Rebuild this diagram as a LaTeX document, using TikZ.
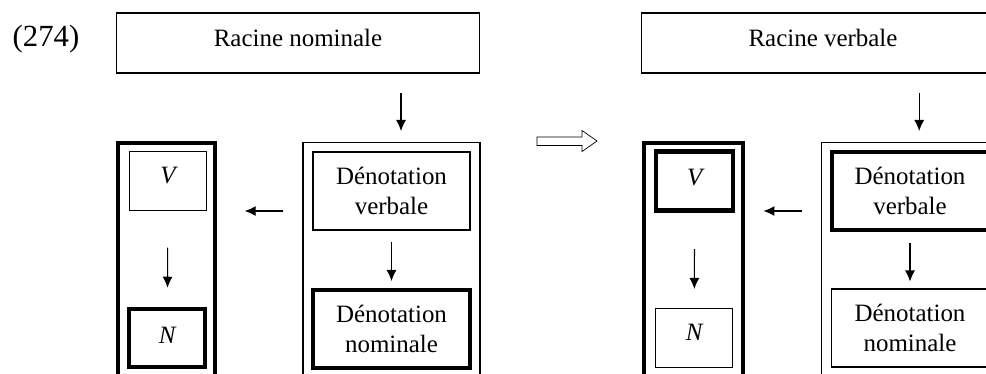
\documentclass[tikz,border=0pt]{standalone}
\usepackage{fontspec}
\setmainfont{Liberation Serif}
\usetikzlibrary{arrows.meta,calc}

\begin{document}
\begin{tikzpicture}[x=0.02cm, y=-0.02cm,
  box/.style={rectangle, draw, line width=0.6pt, align=center, inner sep=0pt, font=\fontsize{14.2}{17}\selectfont},
  heavy/.style={line width=2.3pt},
  root/.style={box, minimum width=7.28cm, minimum height=1.2cm, text depth=0.19cm},
  deno/.style={box, minimum width=3.14cm, minimum height=1.56cm},
  letter/.style={box, minimum width=1.54cm, minimum height=1.18cm, font=\fontsize{14.2}{17}\selectfont\itshape},
  column/.style={box, anchor=north, minimum height=5.6cm},
  edge/.style={-{Latex[length=0.22cm,width=0.2cm]}, line width=0.6pt}
]
\useasboundingbox (0,0) rectangle (986,374);
\clip (0,0) rectangle (986,374);
\node[anchor=base, font=\fontsize{17.5}{20}\selectfont] (ex) at (46,46.7) {(274)};
\node[root] (racN) at (298,43) {Racine nominale};
\node[column, minimum width=3.54cm] (colR1) at (391.5,142) {};
\node[column, heavy, minimum width=1.94cm] (colL1) at (166.7,141.3) {};
\node[deno] (dvN1) at (391.5,191) {Dénotation\\verbale};
\node[deno, heavy] (dnN1) at (391.5,329) {Dénotation\\nominale};
\node[letter, text depth=0.24cm] (vN1) at (168,181) {V};
\node[letter, heavy, minimum width=1.52cm, minimum height=1.17cm, text depth=0.12cm] (nN1) at (167.3,338) {N};
\draw (537,137) -- (582,137) -- (582,130.5) -- (597,141) -- (582,151.5) -- (582,145.5) -- (537,145.5) -- cycle;
\node[root] (racV) at (823,43) {Racine verbale};
\node[column, minimum width=3.54cm] (colR2) at (910.2,142) {};
\node[column, heavy, minimum width=1.97cm] (colL2) at (693.7,141.3) {};
\node[deno, heavy] (dvN2) at (910,191) {Dénotation\\verbale};
\node[deno] (dnN2) at (910,328) {Dénotation\\nominale};
\node[letter, heavy, text depth=0.16cm] (vN2) at (694.7,181) {V};
\node[letter, text depth=0.22cm] (nN2) at (694.2,338) {N};
\draw[edge, shorten <=0.38cm, shorten >=0.22cm] ($(colR1.north |- racN.south)+(9.5,0)$) -- ($(colR1.north)+(9.5,0)$);
\draw[edge, shorten <=0.22cm, shorten >=0.14cm] (dvN1) -- (dnN1);
\draw[edge, shorten <=0.38cm, shorten >=0.55cm] (colR1.west |- vN1.south) -- (colL1.east |- vN1.south);
\draw[edge, shorten <=0.73cm, shorten >=0.38cm] (vN1) -- (nN1);
\draw[edge, shorten <=0.38cm, shorten >=0.22cm] ($(colR2.north |- racV.south)+(9,0)$) -- ($(colR2.north)+(9,0)$);
\draw[edge, shorten <=0.22cm, shorten >=0.14cm] (dvN2) -- (dnN2);
\draw[edge, shorten <=0.38cm, shorten >=0.37cm] (colR2.west |- vN1.south) -- (colL2.east |- vN1.south);
\draw[edge, shorten <=0.73cm, shorten >=0.38cm] (vN2) -- (nN2);
\end{tikzpicture}
\end{document}
